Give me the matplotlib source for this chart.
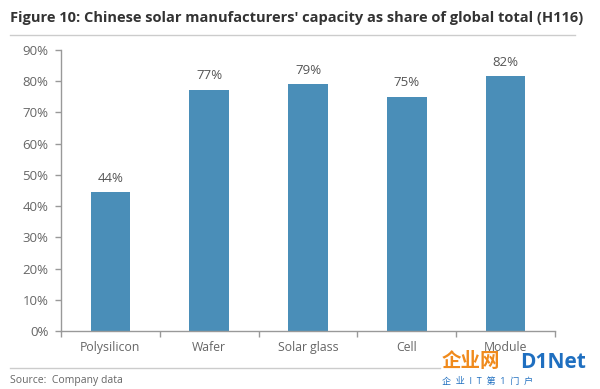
import matplotlib
matplotlib.use("Agg")
import matplotlib.pyplot as plt
import numpy as np

categories = ["Polysilicon", "Wafer", "Solar glass", "Cell", "Module"]
values = [44.5, 77.3, 79.2, 75.1, 81.7]
labels = ["44%", "77%", "79%", "75%", "82%"]
yticks = [0, 10, 20, 30, 40, 50, 60, 70, 80, 90]

plt.rcParams['font.family'] = ['Open Sans', 'Noto Sans CJK SC', 'DejaVu Sans']

fig = plt.figure(figsize=(6, 3.89), dpi=100)
ax = fig.add_axes([61/600, 1-331/389, (555-61)/600, (331-50)/389])

x = np.arange(len(categories))
bar_color = '#4a8eb8'
ax.bar(x, values, width=0.4, color=bar_color, zorder=2)
for xi, v, lab in zip(x, values, labels):
    ax.text(xi, v + 2.3, lab, ha='center', va='bottom', fontsize=9.5, color='#555555')

ax.set_xlim(-0.5, len(categories) - 0.5)
ax.set_ylim(0, 90)
ax.set_yticks(yticks)
ax.set_yticklabels([f"{t}%" for t in yticks], fontsize=9.5, color='#666666')
ax.set_xticks(x)
ax.set_xticklabels(categories, fontsize=8.8, color='#666666')
ax.set_xticks(np.arange(-0.5, len(categories)), minor=True)
ax.tick_params(axis='x', which='major', length=0, pad=7)
ax.tick_params(axis='x', which='minor', length=4, color='#999999', width=1)
ax.tick_params(axis='y', length=4, color='#999999', width=1, pad=5)
for s in ['top', 'right']:
    ax.spines[s].set_visible(False)
for s in ['left', 'bottom']:
    ax.spines[s].set_color('#999999')
    ax.spines[s].set_linewidth(1)

fig.text(10/600, 1-18/389, "Figure 10: Chinese solar manufacturers' capacity as share of global total (H116)",
         fontsize=10.5, fontweight='bold', color='#333333', ha='left', va='center')
fig.add_artist(plt.Line2D([10/600, 575/600], [1-35/389, 1-35/389], color='#cccccc', lw=1))
fig.add_artist(plt.Line2D([10/600, 440/600], [1-368/389, 1-368/389], color='#cccccc', lw=1))
fig.text(10/600, 1-380/389, "Source:  Company data", fontsize=7.5, color='#666666', ha='left', va='center')

# watermark
fig.text(442/600, 1-362/389, "企业网", fontsize=14, fontweight='bold', color='#f08a1c', ha='left', va='center')
fig.text(520/600, 1-362/389, "D1Net", fontsize=15, fontweight='bold', color='#1f6fc0', ha='left', va='center')
fig.text(442/600, 1-381/389, "企  业  I  T  第  1  门  户", fontsize=6.5, color='#1f6fc0', ha='left', va='center')

fig.savefig("out.png", dpi=100)
